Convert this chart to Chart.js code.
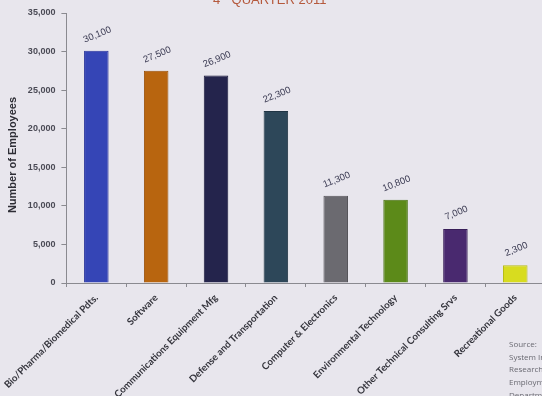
<!DOCTYPE html>
<html>
<head>
<meta charset="utf-8">
<script src="https://cdn.jsdelivr.net/npm/chart.js@4.4.0/dist/chart.umd.min.js"></script>
<style>
  html, body { margin: 0; padding: 0; background: #e8e6ed; overflow: hidden; }
  #wrap { position: relative; width: 542px; height: 396px; overflow: hidden; background: #e8e6ed; }
  #box { position: absolute; left: 0; top: 0; width: 556px; height: 396px; }
  #source {
    position: absolute; left: 509px; top: 338px;
    font: 8px "Open Sans", sans-serif; color: #6a6a72;
    line-height: 12.7px; white-space: nowrap;
  }
</style>
</head>
<body>
<div id="wrap">
  <div id="box"><canvas id="c"></canvas></div>
  <div id="source">Source:<br>System Information<br>Research and Analysis<br>Employment Development<br>Department</div>
</div>
<script>
// Technology employment by industry cluster
const categories = [
  "Bio/Pharma/Biomedical Pdts.",
  "Software",
  "Communications Equipment Mfg",
  "Defense and Transportation",
  "Computer & Electronics",
  "Environmental Technology",
  "Other Technical Consulting Srvs",
  "Recreational Goods"
];
const employees = [30100, 27500, 26900, 22300, 11300, 10800, 7000, 2300];
const barColors = ["#3545b6", "#b8650f", "#24244c", "#2d4759", "#6b6a70", "#5c8a19", "#49296f", "#d8dc1f"];
const barEdges  = ["#28339a", "#9a520a", "#17173a", "#1f3444", "#555459", "#4a7212", "#381e58", "#b8bc16"];
const yMax = 35000;
const yStep = 5000;
const yTitle = "Number of Employees";

const CANVAS_W = 556;

// Heading partly above the top edge
const headingPlugin = {
  id: "heading",
  afterDraw(chart) {
    const ctx = chart.ctx;
    ctx.save();
    ctx.fillStyle = "#b5593d";
    ctx.textBaseline = "alphabetic";
    ctx.textAlign = "left";
    let x = 213;
    ctx.font = "13px 'Liberation Sans', Arial, sans-serif";
    ctx.fillText("4", x, 3.5);
    x += ctx.measureText("4").width;
    ctx.font = "8px 'Liberation Sans', Arial, sans-serif";
    ctx.fillText("th", x + 0.5, -2.5);
    x += ctx.measureText("th").width + 1;
    ctx.font = "13px 'Liberation Sans', Arial, sans-serif";
    ctx.fillText(" QUARTER 2011", x, 3.5);
    ctx.restore();
  }
};

// Vertical axis caption, sitting a little below the axis middle
const yTitlePlugin = {
  id: "yTitle",
  afterDraw(chart) {
    const ctx = chart.ctx;
    ctx.save();
    ctx.fillStyle = "#2e2e36";
    ctx.font = "bold 11px 'Liberation Sans', Arial, sans-serif";
    ctx.textAlign = "center";
    ctx.textBaseline = "middle";
    ctx.translate(13, 155);
    ctx.rotate(-Math.PI / 2);
    ctx.fillText(yTitle, 0, 0);
    ctx.restore();
  }
};

// Tilted value labels above each bar
const valueLabels = {
  id: "valueLabels",
  afterDatasetsDraw(chart) {
    const ctx = chart.ctx;
    const meta = chart.getDatasetMeta(0);
    ctx.save();
    ctx.fillStyle = "#3a3a52";
    ctx.font = "9.5px 'Liberation Sans', Arial, sans-serif";
    ctx.textAlign = "center";
    ctx.textBaseline = "middle";
    meta.data.forEach((bar, i) => {
      ctx.save();
      ctx.translate(bar.x + 1, bar.y - 16);
      ctx.rotate(-22 * Math.PI / 180);
      ctx.fillText(employees[i].toLocaleString("en-US"), 0, 0);
      ctx.restore();
    });
    ctx.restore();
  }
};

new Chart(document.getElementById("c"), {
  type: "bar",
  data: {
    labels: categories,
    datasets: [{
      data: employees,
      backgroundColor: barColors,
      borderColor: barEdges,
      borderWidth: 1,
      barPercentage: 0.41,
      categoryPercentage: 1
    }]
  },
  options: {
    responsive: true,
    maintainAspectRatio: false,
    animation: false,
    devicePixelRatio: 1,
    layout: { padding: { left: 0, right: CANVAS_W - 545.2, top: 13, bottom: 0 } },
    plugins: { legend: { display: false }, tooltip: { enabled: false } },
    scales: {
      x: {
        offset: true,
        grid: { offset: true, drawOnChartArea: false, drawTicks: true, tickLength: 4, color: "#8a8a90" },
        border: { display: true, color: "#8a8a90", width: 1 },
        ticks: {
          autoSkip: false, maxRotation: 45, minRotation: 45, padding: 5,
          color: "#34343c",
          font: { family: "Lato, 'Open Sans', sans-serif", size: 9.7, weight: "bold" }
        },
        afterFit(scale) { scale.height = 113; scale.paddingLeft = 0; scale.paddingRight = 0; }
      },
      y: {
        min: 0, max: yMax,
        grid: { drawOnChartArea: false, drawTicks: true, tickLength: 5, color: "#8a8a90" },
        border: { display: true, color: "#8a8a90", width: 1 },
        ticks: {
          stepSize: yStep, padding: 6, color: "#4a4a55",
          font: { family: "'Liberation Sans', Arial, sans-serif", size: 9, weight: "bold" },
          callback: v => v.toLocaleString("en-US")
        },
        afterFit(scale) { scale.width = 66.4; }
      }
    }
  },
  plugins: [headingPlugin, yTitlePlugin, valueLabels]
});
</script>
</body>
</html>
